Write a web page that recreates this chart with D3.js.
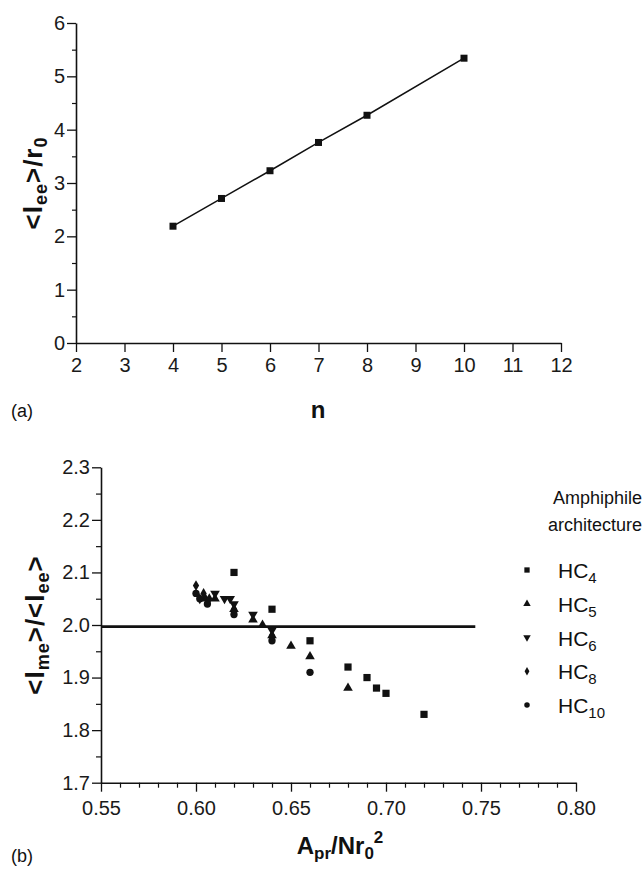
<!DOCTYPE html>
<html><head><meta charset="utf-8">
<script src="https://cdn.jsdelivr.net/npm/d3@7/dist/d3.min.js"></script>
<style>
body{margin:0;background:#fff;}
svg{display:block;font-family:"Liberation Sans",Arial,sans-serif;}
.tick text{fill:#1a1a1a;}
</style></head>
<body>
<svg id="c" width="643" height="869"></svg>
<script>
// ---- Panel (a) data ----
const nValues = [4, 5, 6, 7, 8, 10];
const leeValues = [2.19, 2.71, 3.23, 3.76, 4.27, 5.34];
const topXTicks = [2,3,4,5,6,7,8,9,10,11,12];
const topYTicks = [0,1,2,3,4,5,6];

// ---- Panel (b) data ----
const hc4X = [0.62, 0.64, 0.66, 0.68, 0.69, 0.695, 0.70, 0.72];
const hc4Y = [2.10, 2.03, 1.97, 1.92, 1.90, 1.88, 1.87, 1.83];
const hc5X = [0.605, 0.61, 0.62, 0.63, 0.635, 0.64, 0.65, 0.66, 0.68];
const hc5Y = [2.05, 2.05, 2.03, 2.01, 2.00, 1.98, 1.96, 1.94, 1.88];
const hc6X = [0.61, 0.615, 0.618, 0.62, 0.63, 0.64];
const hc6Y = [2.06, 2.05, 2.05, 2.04, 2.02, 1.99];
const hc8X = [0.60, 0.602, 0.604, 0.607, 0.62, 0.64];
const hc8Y = [2.075, 2.05, 2.06, 2.05, 2.03, 1.98];
const hc10X = [0.60, 0.602, 0.606, 0.62, 0.64, 0.66];
const hc10Y = [2.06, 2.05, 2.04, 2.02, 1.97, 1.91];
const refLineX = [0.55, 0.747];
const refLineY = [1.997, 1.997];
const botXTicks = [0.55, 0.60, 0.65, 0.70, 0.75, 0.80];
const botYTicks = [1.7, 1.8, 1.9, 2.0, 2.1, 2.2, 2.3];
const seriesNames = ["HC4", "HC5", "HC6", "HC8", "HC10"];

const svg = d3.select("#c");
const ink = "#111";

// ================= Panel (a) =================
const xa = d3.scaleLinear().domain([2, 12]).range([76, 561]);
const ya = d3.scaleLinear().domain([0, 6]).range([343, 23]);

function styleAxis(g){
  g.selectAll("path.domain").attr("stroke", ink).attr("stroke-width", 1.6);
  g.selectAll(".tick line").attr("stroke", ink).attr("stroke-width", 1.3);
  g.selectAll("text").attr("font-size", 20).attr("fill", "#1a1a1a");
}

// minor y ticks
svg.append("g").attr("transform", "translate(76,0)")
  .call(d3.axisLeft(ya).tickValues(d3.range(0.5, 6, 1)).tickSize(4).tickFormat(""))
  .call(g => { g.select("path.domain").remove(); g.selectAll(".tick line").attr("stroke", ink).attr("stroke-width", 1.2); });
svg.append("g").attr("transform", "translate(76,0)")
  .call(d3.axisLeft(ya).tickValues(topYTicks).tickSize(9).tickSizeOuter(0).tickPadding(2).tickFormat(d3.format("d")))
  .call(styleAxis);
svg.append("g").attr("transform", "translate(0,343)")
  .call(d3.axisBottom(xa).tickValues(topXTicks).tickSize(9).tickSizeOuter(0).tickPadding(6).tickFormat(d3.format("d")))
  .call(styleAxis);

const topPts = nValues.map((n, i) => ({x: n, y: leeValues[i]}));
svg.append("path").datum(topPts)
  .attr("fill", "none").attr("stroke", ink).attr("stroke-width", 1.5)
  .attr("d", d3.line().x(d => xa(d.x)).y(d => ya(d.y)));
svg.append("g").selectAll("rect").data(topPts).join("rect")
  .attr("x", d => xa(d.x) - 3.5).attr("y", d => ya(d.y) - 3.5)
  .attr("width", 7).attr("height", 7).attr("fill", ink);

// y label (a)
const yla = svg.append("text").attr("transform", "translate(42,183) rotate(-90)")
  .attr("text-anchor", "middle").attr("font-weight", "bold").attr("font-size", 26).attr("fill", ink)
  .attr("letter-spacing", 1);
yla.append("tspan").text("<l");
yla.append("tspan").attr("font-size", 18).attr("dy", 5).text("ee");
yla.append("tspan").attr("dy", -5).text(">/r");
yla.append("tspan").attr("font-size", 18).attr("dy", 5).text("0");

svg.append("text").attr("x", 318).attr("y", 418).attr("text-anchor", "middle")
  .attr("font-weight", "bold").attr("font-size", 24).attr("fill", ink).text("n");
svg.append("text").attr("x", 11).attr("y", 417).attr("font-size", 18).attr("fill", ink).text("(a)");

// ================= Panel (b) =================
const xb = d3.scaleLinear().domain([0.55, 0.80]).range([101, 576]);
const yb = d3.scaleLinear().domain([1.7, 2.3]).range([782.7, 467.3]);

svg.append("g").attr("transform", "translate(101,0)")
  .call(d3.axisLeft(yb).tickValues(d3.range(1.75, 2.3, 0.1)).tickSize(5).tickFormat(""))
  .call(g => { g.select("path.domain").remove(); g.selectAll(".tick line").attr("stroke", ink).attr("stroke-width", 1.2); });
svg.append("g").attr("transform", "translate(101,0)")
  .call(d3.axisLeft(yb).tickValues(botYTicks).tickSize(9).tickSizeOuter(0).tickPadding(2).tickFormat(d3.format(".1f")))
  .call(styleAxis);
svg.append("g").attr("transform", "translate(0,782.7)")
  .call(d3.axisBottom(xb).tickValues(d3.range(0.56, 0.80, 0.01).filter(v => Math.abs(v*100 % 5) > 0.5 && Math.abs(v*100 % 5 - 5) > 0.5)).tickSize(5).tickFormat(""))
  .call(g => { g.select("path.domain").remove(); g.selectAll(".tick line").attr("stroke", ink).attr("stroke-width", 1.2); });
svg.append("g").attr("transform", "translate(0,782.7)")
  .call(d3.axisBottom(xb).tickValues(botXTicks).tickSize(9).tickSizeOuter(0).tickPadding(9).tickFormat(d3.format(".2f")))
  .call(styleAxis);

// reference line
svg.append("line")
  .attr("x1", xb(refLineX[0])).attr("x2", xb(refLineX[1]))
  .attr("y1", yb(refLineY[0])).attr("y2", yb(refLineY[1]))
  .attr("stroke", ink).attr("stroke-width", 2.6);

const symDown = {draw(ctx, size){ const s = Math.sqrt(size/ (Math.sqrt(3)/4)); const h = s*Math.sqrt(3)/2;
  ctx.moveTo(-s/2, -h/3); ctx.lineTo(s/2, -h/3); ctx.lineTo(0, 2*h/3); ctx.closePath(); }};
const symUp = {draw(ctx, size){ const s = Math.sqrt(size/ (Math.sqrt(3)/4)); const h = s*Math.sqrt(3)/2;
  ctx.moveTo(-s/2, h/3); ctx.lineTo(s/2, h/3); ctx.lineTo(0, -2*h/3); ctx.closePath(); }};
const series = [
  {name: "HC4", xs: hc4X, ys: hc4Y, type: d3.symbolSquare, size: 52, lsize: 28, sub: "4"},
  {name: "HC5", xs: hc5X, ys: hc5Y, type: symUp, size: 40, lsize: 24, sub: "5"},
  {name: "HC6", xs: hc6X, ys: hc6Y, type: symDown, size: 40, lsize: 24, sub: "6"},
  {name: "HC8", xs: hc8X, ys: hc8Y, type: d3.symbolDiamond, size: 34, lsize: 20, sub: "8"},
  {name: "HC10", xs: hc10X, ys: hc10Y, type: d3.symbolCircle, size: 42, lsize: 24, sub: "10"}
];
series.forEach(s => {
  const pts = s.xs.map((x, i) => ({x, y: s.ys[i]}));
  svg.append("g").selectAll("path").data(pts).join("path")
    .attr("transform", d => `translate(${xb(d.x)},${yb(d.y)})`)
    .attr("d", d3.symbol().type(s.type).size(s.size)).attr("fill", ink);
});

// y label (b)
const ylb = svg.append("text").attr("transform", "translate(44,625) rotate(-90)")
  .attr("text-anchor", "middle").attr("font-weight", "bold").attr("font-size", 26).attr("fill", ink)
  .attr("letter-spacing", 1);
ylb.append("tspan").text("<l");
ylb.append("tspan").attr("font-size", 18).attr("dy", 5).text("me");
ylb.append("tspan").attr("dy", -5).text(">/<l");
ylb.append("tspan").attr("font-size", 18).attr("dy", 5).text("ee");
ylb.append("tspan").attr("dy", -5).text(">");

// x label (b)
const xlb = svg.append("text").attr("x", 340).attr("y", 854).attr("text-anchor", "middle")
  .attr("font-weight", "bold").attr("font-size", 24).attr("fill", ink);
xlb.append("tspan").text("A");
xlb.append("tspan").attr("font-size", 17).attr("dy", 5).text("pr");
xlb.append("tspan").attr("dy", -5).text("/Nr");
xlb.append("tspan").attr("font-size", 17).attr("dy", 5).text("0");
xlb.append("tspan").attr("font-size", 17).attr("dy", -16).text("2");
svg.append("text").attr("x", 11).attr("y", 862).attr("font-size", 18).attr("fill", ink).text("(b)");

// legend
svg.append("text").attr("x", 553).attr("y", 504).attr("font-size", 18).attr("fill", ink).text("Amphiphile");
svg.append("text").attr("x", 548).attr("y", 531).attr("font-size", 18).attr("fill", ink).text("architecture");
const legY = d3.scalePoint().domain(seriesNames).range([570, 705]);
series.forEach(s => {
  const cy = legY(s.name);
  svg.append("path").attr("transform", `translate(527,${cy})`)
    .attr("d", d3.symbol().type(s.type).size(s.lsize)).attr("fill", ink);
  const t = svg.append("text").attr("x", 558).attr("y", cy + 8).attr("font-size", 21).attr("fill", ink);
  t.append("tspan").text("HC");
  t.append("tspan").attr("font-size", 15).attr("dy", 5).text(s.sub);
});
</script>
</body></html>
